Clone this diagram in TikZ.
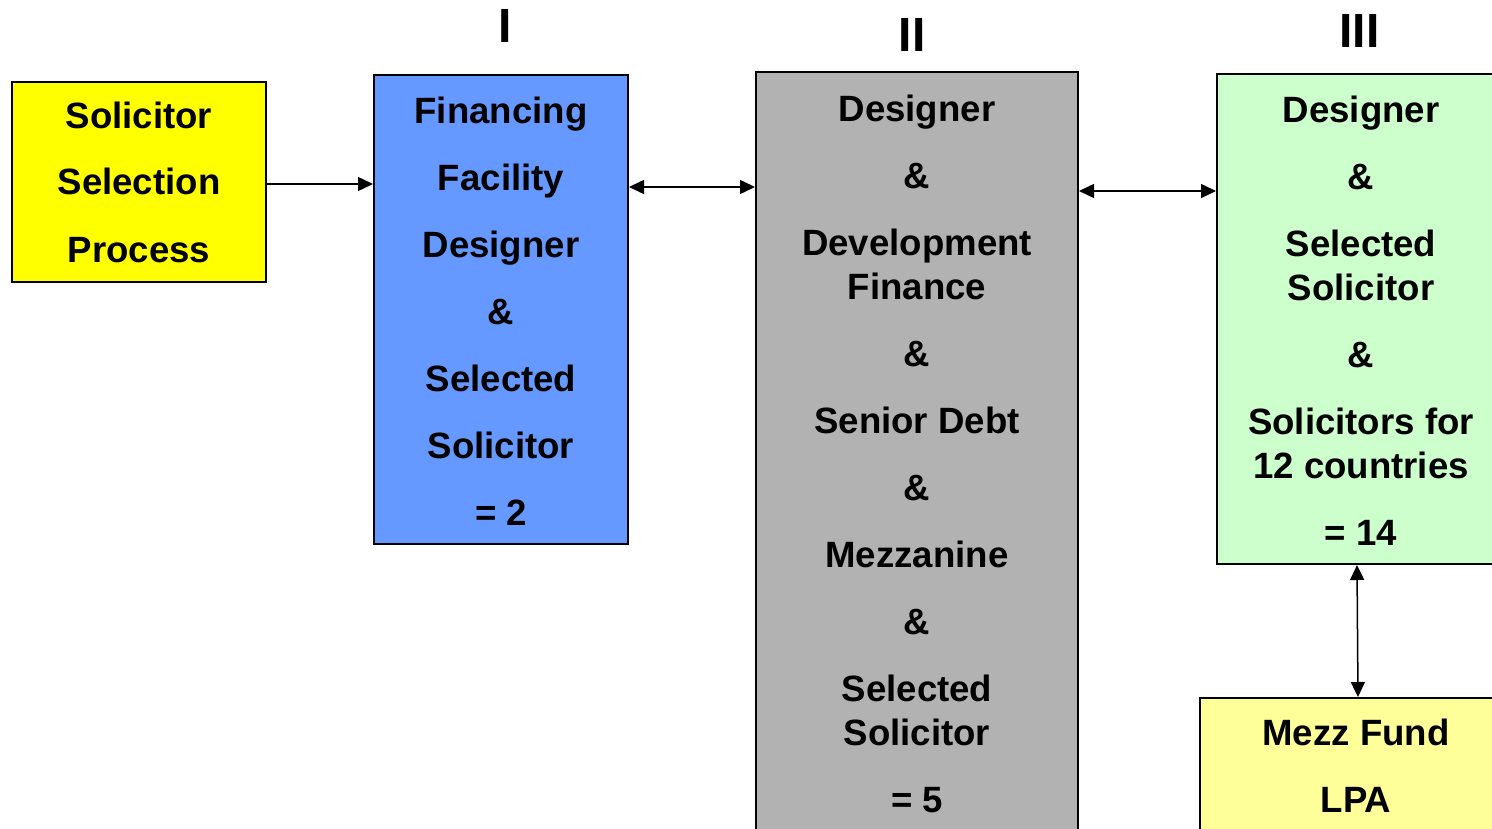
\documentclass[tikz,border=0pt]{standalone}
\usepackage{fontspec}
\setmainfont{Liberation Sans}
\usetikzlibrary{arrows.meta}
\definecolor{cyel}{HTML}{FFFF00}
\definecolor{cblue}{HTML}{6699FF}
\definecolor{cgray}{HTML}{B2B2B2}
\definecolor{cgreen}{HTML}{CCFFCC}
\definecolor{cmezz}{HTML}{FFFF99}
\tikzset{
  box/.style={draw=black, line width=2pt, rectangle, inner sep=0pt},
  txt/.style={align=center, inner sep=0pt, anchor=base, font=\bfseries\fontsize{36.6}{44}\selectfont},
  hdr/.style={inner sep=0pt, font=\bfseries\fontsize{48}{48}\selectfont},
  arr/.style={line width=1.5pt, -{Triangle[length=15pt,width=14pt]}},
  darr/.style={line width=1.5pt, {Triangle[length=15pt,width=14pt]}-{Triangle[length=15pt,width=14pt]}}
}
\begin{document}
\begin{tikzpicture}[x=1pt,y=-1pt]
\useasboundingbox (0,0) rectangle (1492,829);
\clip (0,0) rectangle (1492,829);
\fill[white] (0,0) rectangle (1492,829);
% boxes
\node[box, fill=cyel, minimum width=254pt, minimum height=200pt] (sel) at (139,182) {};
\node[box, fill=cblue, minimum width=254pt, minimum height=469pt] (fin) at (501,309.5) {};
\node[box, fill=cgray, minimum width=322pt, minimum height=780pt] (dev) at (917,462) {};
\node[box, fill=cgreen, minimum width=300pt, minimum height=490pt] (grn) at (1367,319) {};
\node[box, fill=cmezz, minimum width=320pt, minimum height=160pt] (mezz) at (1360,778) {};
% texts (anchored at the baseline of the last line)
\node[txt] (selT) at (139,262) {Solicitor\\[23pt]Selection\\[23pt]Process};
\node[txt] (finT) at (501,525) {Financing\\[23pt]Facility\\[23pt]Designer\\[23pt]\&\\[23pt]Selected\\[23pt]Solicitor\\[23pt]= 2};
\node[txt] (devT) at (917,812) {Designer\\[23pt]\&\\[23pt]Development\\Finance\\[23pt]\&\\[23pt]Senior Debt\\[23pt]\&\\[23pt]Mezzanine\\[23pt]\&\\[23pt]Selected\\Solicitor\\[23pt]= 5};
\node[txt] (grnT) at (1361,545) {Designer\\[23pt]\&\\[23pt]Selected\\Solicitor\\[23pt]\&\\[23pt]Solicitors for\\12 countries\\[23pt]= 14};
\node[txt] (mezzT) at (1356,812) {Mezz Fund\\[23pt]LPA};
% headers
\node[hdr] (h1) at (505.5,26) {I};
\node[hdr] (h2) at (912,34.5) {II};
\node[hdr] (h3) at (1359.5,31) {III};
% connectors
\draw[arr] (sel.east |- 0,184) -- (fin.west |- 0,184);
\draw[darr] (fin.east |- 0,187) -- (dev.west |- 0,187);
\draw[darr] (dev.east |- 0,191) -- (grn.west |- 0,191);
\draw[darr] (grn.south -| 1357,0) -- (mezz.north -| 1358,0);
\end{tikzpicture}
\end{document}
